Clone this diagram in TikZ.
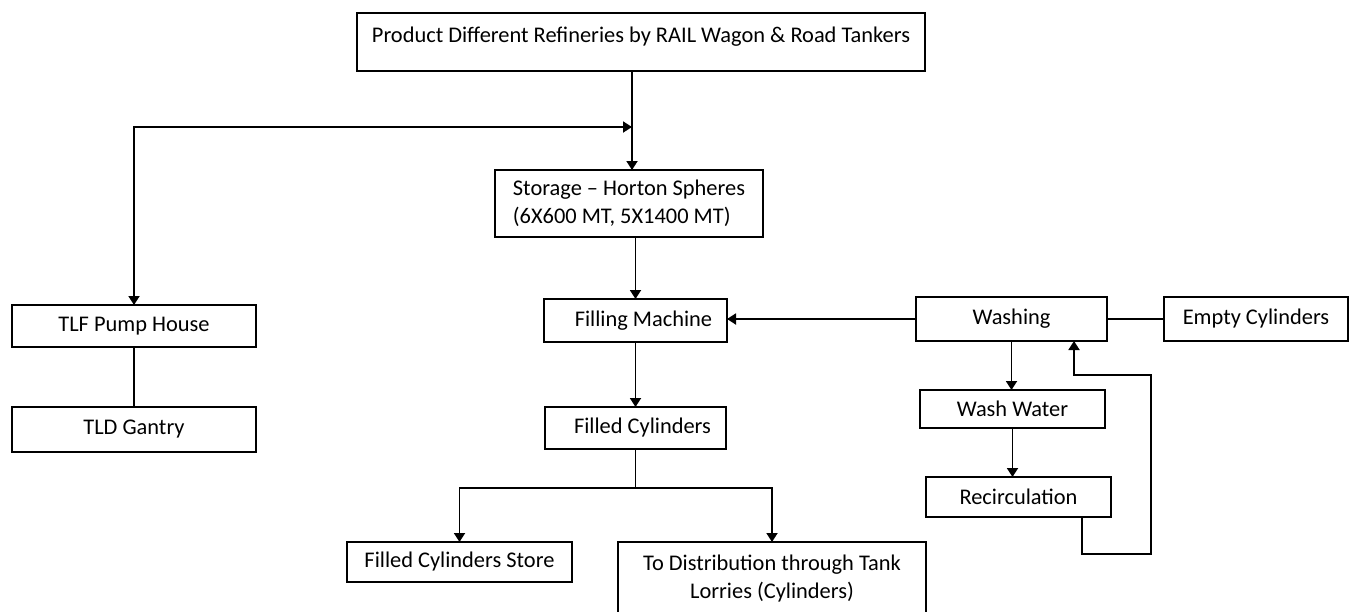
\documentclass[tikz,border=0pt]{standalone}
\usepackage{fontspec}
\setmainfont{Carlito}
\usetikzlibrary{arrows.meta,positioning}
\begin{document}
\begin{tikzpicture}[
		x=1pt, y=-1pt,
		line width=1.8pt,
		box/.style={rectangle, draw=black, align=center, inner sep=0pt, outer sep=0pt, font=\fontsize{22.4}{28}\selectfont},
		arr/.style={-{Triangle[length=9pt,width=11pt]}},
		arrboth/.style={{Triangle[length=9pt,width=11pt]}-{Triangle[length=9pt,width=11pt]}}
		]
		\useasboundingbox (0,0) rectangle (1350,611);
		\node[box, minimum width=568pt, minimum height=58pt, text height=15pt, text depth=14pt] (product) at (641,42) {Product Different Refineries by RAIL Wagon \& Road Tankers};
		\node[box, minimum width=268pt, minimum height=67pt, align=left] (storage) at (629,203.5) {Storage -- Horton Spheres\\(6X600 MT, 5X1400 MT)};
		\node[box, minimum width=183pt, minimum height=43pt] (filling) at (635.5,320.5) {\hspace{16pt}Filling Machine};
		\node[box, minimum width=191pt, minimum height=44pt] (washing) at (1011.5,319) {Washing};
		\node[box, minimum width=184pt, minimum height=44pt] (empty) at (1256,319) {Empty Cylinders};
		\node[box, minimum width=244pt, minimum height=42pt] (tlf) at (134,326) {TLF Pump House};
		\node[box, minimum width=244pt, minimum height=45pt] (tld) at (134,429.5) {TLD Gantry};
		\node[box, minimum width=181pt, minimum height=42pt] (filled) at (635.5,428) {\hspace{14pt}Filled Cylinders};
		\node[box, minimum width=185pt, minimum height=38pt] (washwater) at (1012.5,409) {Wash Water};
		\node[box, minimum width=185pt, minimum height=40pt] (recirc) at (1018.5,497) {Recirculation};
		\node[box, minimum width=225pt, minimum height=40pt] (store) at (459.5,562) {Filled Cylinders Store};
		\node[box, minimum width=308pt, minimum height=74pt] (dist) at (772,579) {To Distribution through Tank\\Lorries (Cylinders)};
		\coordinate (join) at (632,127);
		\coordinate (fbl) at (1151,554);
		\coordinate (fbt) at (1151,375);
		\draw[arr] (join |- product.south) -- (join |- storage.north);
		\draw[arrboth] (tlf.north) |- (join);
		\draw[arr] (filling.north |- storage.south) -- (filling.north);
		\draw[arr] (washing.west) -- (washing.west -| filling.east);
		\draw (washing.east) -- (empty.west);
		\draw (tlf.south) -- (tld.north);
		\draw[arr] (filling.south) -- (filled.north);
		\draw (filled.south) -- ++(0,39) coordinate (fork);
		\draw[arr] (fork) -| (store.north);
		\draw[arr] (fork) -| (dist.north);
		\draw[arr] (washing.south) -- (washing.south |- washwater.north);
		\draw[arr] (washwater.south) -- (washwater.south |- recirc.north);
		\draw[arr] ([xshift=63.5pt]recirc.south) |- (fbl) -- (fbt) -| ([xshift=62.5pt]washing.south);
	\end{tikzpicture}
\end{document}
